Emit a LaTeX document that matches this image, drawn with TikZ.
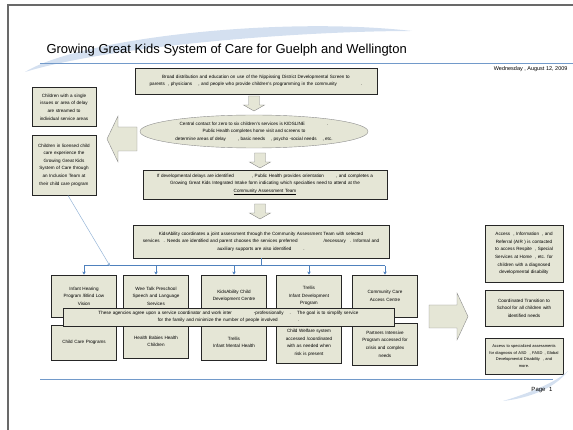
\documentclass[tikz,border=0pt]{standalone}
\usepackage{fontspec}
\setmainfont{Liberation Sans}
\usetikzlibrary{positioning,shapes.geometric,arrows.meta}
\definecolor{boxfill}{RGB}{229,230,214}
\definecolor{linkblue}{RGB}{79,129,189}
\definecolor{swoosh}{RGB}{212,224,240}
\definecolor{framegray}{RGB}{105,105,105}
\newcommand{\boxfont}{\fontsize{4.6}{7.6}\selectfont}
\newcommand{\smallboxfont}{\fontsize{4}{6.6}\selectfont}

\begin{document}
\begin{tikzpicture}[x=1pt,y=-1pt,
    box/.style={draw=black!85, line width=0.9pt, fill=boxfill, align=center, font=\boxfont, inner sep=1pt},
    agency/.style={box, minimum width=65pt, text width=62pt},
    sidebox/.style={box, minimum width=78pt, text width=74pt},
    blockarrow/.style={draw=black!45, fill=boxfill, line width=0.4pt},
    link/.style={linkblue, line width=1pt},
    pics/downblock/.style={code={
        \draw[blockarrow] (-5.5,0) -- (5.5,0) -- (5.5,9) -- (10.5,9) -- (0,15) -- (-10.5,9) -- (-5.5,9) -- cycle;}}]
\useasboundingbox (0,0) rectangle (573,430);

% slide frame and header
\draw[framegray, line width=1.6pt] (8,430) -- (8,5) -- (573,5);
\fill[swoosh] (25,72) .. controls (80,38) and (280,16) .. (412,31) .. controls (300,31) and (110,46) .. (25,72);
\node[anchor=west, font=\fontsize{13}{15}\selectfont] (title) at (43,50) {Growing Great Kids System of Care for Guelph and Wellington};
\draw[linkblue!80, line width=0.8pt] (40,63) -- (573,63);
\node[anchor=east, font=\fontsize{5.5}{6}\selectfont] (date) at (571,69) {Wednesday , August 12, 2009};

% main flow
\node[box, minimum width=242pt, minimum height=26pt, text width=236pt] (screen) at (256,81)
  {Broad distribution and education on use of the Nippissing District Developmental Screen to\\
   parents\hspace{3pt}, physicians\hspace{6pt}, and people who provide children's programming in the community\hspace{24pt}.};
\pic (down1) at (254,96) {downblock};
\node[ellipse, draw=black!45, fill=boxfill, line width=0.4pt, minimum width=228pt, minimum height=33pt,
      inner sep=0pt, align=center, font=\boxfont] (kidsline) at (254,131.5)
  {Central contact for zero to six children's services is KIDSLINE\hspace{22pt}.\\
   Public Health completes home visit and screens to\\
   determine areas of delay\hspace{12pt}, basic needs\hspace{6pt}, psycho -social needs\hspace{6pt}, etc.};
\pic (down2) at (260,153) {downblock};
\node[box, minimum width=244pt, minimum height=29pt, text width=240pt] (intake) at (265,184.5)
  {If developmental delays are identified\hspace{18pt}, Public Health provides orientation\hspace{12pt}, and completes a\\
   Growing Great Kids Integrated Intake form indicating which specialties need to attend at the\\
   \underline{Community Assessment Team}};
\pic (down3) at (260,204) {downblock};
\node[box, minimum width=256pt, minimum height=33pt, text width=250pt] (kidsability) at (261,241.5)
  {KidsAbility coordinates a joint assessment through the Community Assessment Team with selected\\
   services\hspace{4pt}. Needs are identified and parent chooses the services preferred\hspace{26pt}/necessary\hspace{4pt}. Informal and\\
   auxiliary supports are also identified\hspace{12pt}.};

% left column
\node[box, minimum width=64pt, minimum height=39pt, text width=62pt] (single) at (64,107)
  {Children with a single\\ issues or area of delay\\ are streamed to\\ individual service areas};
\node[box, minimum width=64pt, minimum height=60pt, text width=62pt] (inclusion) at (64,165)
  {Children in licensed child\\ care experience the\\ Growing Great Kids\\ System of Care through\\ an Inclusion Team at\\ their child care program};
\draw[blockarrow] (137,127) -- (118,127) -- (118,116) -- (107,139) -- (118,162) -- (118,151) -- (137,151) -- cycle;

% agencies
\node[agency, minimum height=42pt] (hearing) at (84,296) {Infant Hearing\\ Program /Blind Low\\ Vision};
\node[agency, minimum height=42pt] (weetalk) at (156,296) {Wee Talk Preschool\\ Speech and Language\\ Services};
\node[agency, minimum height=42pt] (kacentre) at (234,296) {KidsAbility Child\\ Development Centre};
\node[agency, minimum height=42pt] (trellis) at (309,296) {Trellis\\ Infant Development\\ Program};
\node[agency, minimum height=42pt] (ccac) at (385,296) {Community Care\\ Access Centre};

\node[agency, minimum height=35pt] (childcare) at (84,342.5) {Child Care Programs};
\node[agency, minimum height=33pt] (healthy) at (156,341.5) {Health Babies Health\\ Children};
\node[agency, minimum height=35pt] (mental) at (234,342.5) {Trellis\\ Infant Mental Health};
\node[agency, minimum height=40pt] (welfare) at (309,343) {Child Welfare system\\ accessed /coordinated\\ with as needed when\\ risk is present};
\node[agency, minimum height=42pt] (partners) at (385,344) {Partners Intensive\\ Program accessed for\\ crisis and complex\\ needs};

\node[box, minimum width=331pt, minimum height=18pt, text width=325pt] (agree) at (228.5,317)
  {These agencies agree upon a service coordinator and work inter\hspace{22pt}-professionally\hspace{6pt}.\hspace{4pt} The goal is to simplify service\\
   for the family and minimize the number of people involved\hspace{20pt}.};

% connectors
\coordinate (hub) at (261,266);
\coordinate (incl-end) at (110,266);
\draw[link] (kidsability.south) -- (kidsability.south |- hub);
\draw[link] (hearing.north |- hub) -- (ccac.north |- hub);
\foreach \n in {hearing,weetalk,kacentre,trellis,ccac}
  \draw[link, -{Stealth[length=3pt,width=3.5pt]}] (\n.north |- hub) -- (\n.north);
\draw[linkblue!60, line width=0.5pt, -{Stealth[length=3pt,width=3pt]}] ([xshift=4pt]inclusion.south) -- (incl-end);

% right column
\draw[blockarrow] (429,305) -- (457,305) -- (457,293) -- (468,316.5) -- (457,340) -- (457,328) -- (429,328) -- cycle;
\node[sidebox, minimum height=57pt] (air) at (524,253.5)
  {Access\hspace{3pt}, Information\hspace{3pt}, and\\ Referral (AIR ) is contacted\\ to access Respite\hspace{3pt}, Special\\ Services at Home\hspace{3pt}, etc. for\\ children with a diagnosed\\ developmental disability};
\node[sidebox, minimum height=36pt] (school) at (524,308)
  {Coordinated Transition to\\ School for all children with\\ identified needs};
\node[sidebox, minimum height=36pt, font=\smallboxfont] (assess) at (524,356)
  {Access to specialized assessments\\ for diagnosis of ASD\hspace{3pt}, FASD\hspace{2pt}, Global\\ Developmental Disability\hspace{3pt}, and\\ more.};

% footer
\draw[linkblue!80, line width=0.8pt] (40,379) -- (553,379);
\fill[swoosh] (503,401) .. controls (530,398) and (555,388) .. (568,371) .. controls (556,382) and (530,393) .. (503,401);
\node[font=\fontsize{6}{7}\selectfont] (page) at (542,390) {Page\hspace{2pt} 1};
\end{tikzpicture}
\end{document}
